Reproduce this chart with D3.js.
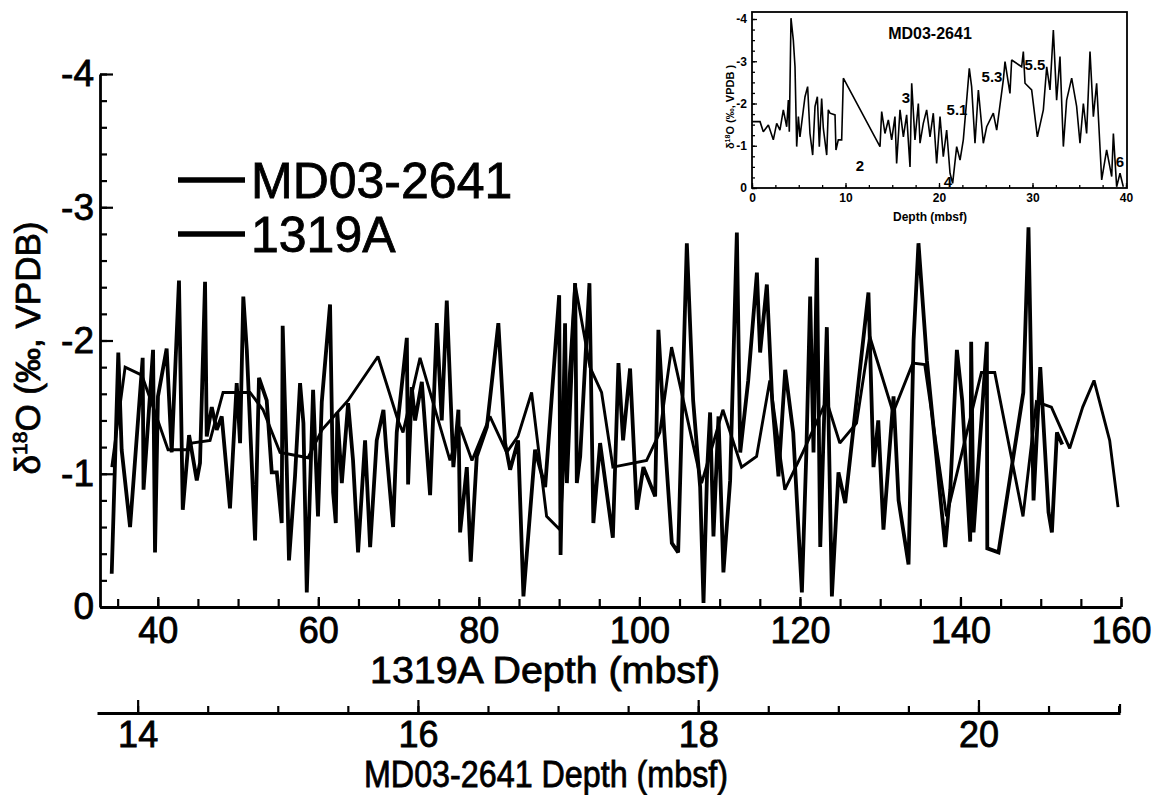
<!DOCTYPE html>
<html><head><meta charset="utf-8">
<script src="https://cdn.jsdelivr.net/npm/d3@7"></script>
<style>
body{margin:0;background:#fff}
svg text{font-family:"Liberation Sans",Arial,Helvetica,sans-serif;fill:#000}
svg text.heavy{stroke:#000;stroke-width:0.8px}
</style>
</head><body>
<svg id="chart" width="1155" height="795"></svg>
<script>
// ---------- DATA ----------
// MD03-2641 (high resolution record), depth in mbsf, d18O in permil VPDB
const mdDepth = [13.815,13.862,13.886,13.946,14.036,14.042,14.110,14.124,14.145,14.207,14.243,14.295,14.322,14.367,14.422,14.445,14.481,14.493,14.529,14.564,14.600,14.659,14.707,14.731,14.754,14.779,14.838,14.866,14.921,14.957,14.993,15.028,15.035,15.064,15.080,15.123,15.159,15.183,15.207,15.252,15.287,15.314,15.373,15.395,15.414,15.425,15.457,15.502,15.537,15.573,15.623,15.659,15.706,15.754,15.773,15.823,15.849,15.921,15.930,15.956,15.980,16.028,16.087,16.135,16.170,16.206,16.253,16.289,16.301,16.349,16.377,16.420,16.492,16.574,16.622,16.658,16.715,16.753,16.836,16.908,17.008,17.018,17.050,17.063,17.122,17.134,17.158,17.224,17.252,17.300,17.391,17.431,17.464,17.514,17.562,17.609,17.693,17.716,17.757,17.812,17.857,17.919,17.964,18.014,18.038,18.064,18.085,18.109,18.145,18.180,18.228,18.276,18.300,18.357,18.419,18.442,18.490,18.528,18.573,18.621,18.678,18.740,18.771,18.799,18.823,18.847,18.871,18.918,18.954,19.001,19.049,19.215,19.251,19.285,19.322,19.394,19.430,19.501,19.537,19.572,19.632,19.763,19.799,19.846,19.884,19.941,19.948,19.965,20.060,20.063,20.143,20.320,20.357,20.393,20.441,20.500,20.524,20.560,20.598];
const mdD18O = [-0.25,-1.91,-1.18,-0.60,-1.87,-0.88,-1.93,-0.41,-1.58,-1.94,-1.16,-2.45,-0.73,-1.29,-0.95,-1.08,-2.44,-1.28,-1.50,-1.33,-1.43,-0.74,-1.68,-1.23,-2.33,-1.93,-0.50,-1.72,-1.55,-1.01,-1.01,-0.63,-2.11,-1.05,-0.35,-0.98,-1.68,-1.38,-0.11,-1.63,-0.68,-1.54,-2.27,-0.86,-0.63,-1.46,-0.93,-1.53,-1.10,-0.41,-1.25,-0.45,-1.25,-1.48,-1.20,-0.60,-1.31,-2.02,-0.92,-1.65,-1.40,-1.69,-0.84,-2.13,-1.40,-2.30,-1.05,-1.48,-0.56,-1.05,-0.34,-1.13,-1.35,-2.13,-1.23,-1.03,-1.25,-0.08,-1.18,-0.90,-2.34,-0.39,-2.13,-0.93,-2.43,-0.93,-1.13,-2.43,-0.63,-1.23,-0.52,-1.83,-1.25,-1.79,-0.73,-1.05,-0.83,-2.08,-1.33,-0.48,-0.41,-2.73,-1.55,-0.90,-0.03,-1.03,-1.46,-0.53,-1.43,-0.26,-0.95,-2.81,-1.16,-1.70,-2.51,-1.91,-2.42,-1.55,-0.98,-1.78,-1.31,-0.11,-1.13,-2.33,-1.16,-2.62,-0.45,-2.10,-0.08,-1.01,-0.78,-2.36,-1.05,-1.40,-0.58,-1.58,-0.80,-0.32,-2.00,-2.73,-1.85,-0.45,-0.88,-1.93,-1.55,-0.49,-1.99,-0.56,-1.99,-0.44,-0.41,-1.61,-2.85,-0.80,-1.80,-0.71,-0.56,-1.31,-1.22];

// ODP 1319A, depth in mbsf
const odpDepth = [34.27,35.93,38.01,39.66,41.28,43.65,44.23,46.51,48.13,51.49,53.11,55.23,58.72,60.46,63.70,67.43,69.93,70.55,72.67,76.40,77.65,79.14,81.38,83.46,84.87,86.57,88.44,90.10,91.97,93.84,95.29,96.70,100.90,102.55,104.01,107.75,110.40,112.73,114.60,116.25,118.12,120.36,123.31,124.97,127.05,128.70,131.61,134.06,135.55,138.26,142.61,144.27,147.79,149.46,151.33,153.61,155.23,156.64,158.59,159.63];
const odpD18O = [-1.05,-1.80,-1.74,-1.46,-1.18,-1.18,-1.23,-1.25,-1.61,-1.61,-1.48,-1.16,-1.12,-1.33,-1.55,-1.88,-1.40,-1.31,-1.87,-1.10,-1.35,-1.10,-1.43,-1.16,-1.28,-1.61,-0.68,-0.58,-2.43,-1.80,-1.61,-1.05,-1.10,-1.31,-1.95,-0.93,-1.48,-1.05,-1.13,-1.70,-0.88,-1.16,-1.55,-1.23,-1.38,-2.03,-1.46,-1.83,-1.82,-0.68,-1.76,-1.76,-0.68,-1.54,-1.50,-1.19,-1.50,-1.70,-1.25,-0.75];

// Inset: full MD03-2641 record
const insetDepth = [0,0.86,1.21,1.75,2.28,2.64,2.99,3.35,3.71,3.89,3.99,4.17,4.42,4.60,4.78,4.96,5.13,5.49,5.67,5.95,6.20,6.49,6.74,6.99,7.20,7.45,7.63,7.99,8.16,8.34,8.88,8.98,9.23,9.59,9.77,13.69,13.87,14.22,14.58,14.94,15.29,15.47,15.83,16.19,16.54,16.90,17.08,17.43,17.79,17.97,18.32,18.68,19.04,19.39,19.75,20.11,20.46,20.82,21.18,21.46,21.89,22.25,22.60,22.96,23.24,23.49,23.85,24.21,24.74,25.10,25.81,26.17,26.88,27.06,27.59,27.77,28.84,29.02,29.20,29.91,30.52,31.16,31.52,31.87,32.23,32.58,32.94,33.30,33.65,34.19,34.72,35.08,35.44,35.79,36.15,36.51,36.86,37.40,37.93,38.47,38.65,39.00,39.36,39.71];
const insetD18O = [-1.57,-1.57,-1.33,-1.49,-1.14,-1.53,-1.37,-1.85,-1.45,-2.08,-1.33,-4.02,-3.50,-2.87,-0.98,-1.69,-1.21,-1.85,-2.16,-2.40,-1.29,-0.78,-1.93,-2.16,-0.98,-2.12,-1.41,-0.78,-1.85,-1.77,-1.73,-0.90,-1.14,-1.14,-2.60,-0.98,-1.81,-1.29,-1.61,-1.14,-1.69,-0.58,-1.85,-1.21,-1.73,-0.50,-2.48,-1.14,-2.00,-1.06,-1.53,-1.85,-1.21,-1.77,-0.58,-1.69,-0.74,-1.37,-0.35,-0.11,-0.98,-0.66,-1.14,-2.08,-2.83,-2.40,-1.06,-2.32,-1.06,-1.45,-1.77,-1.37,-2.56,-2.99,-2.24,-3.03,-2.87,-3.23,-2.48,-2.32,-1.21,-1.85,-2.87,-2.32,-3.74,-2.08,-3.11,-0.98,-2.08,-2.60,-1.93,-1.06,-2.00,-1.29,-3.23,-1.69,-2.48,-0.19,-0.90,-0.27,-1.29,-0.03,-0.35,-0.03];

// Inset stage annotations (anchored in data coordinates)
const stageLabels = ["2","3","4","5.1","5.3","5.5","6"];
const stageDepth  = [11.55,16.47,20.96,21.93,25.67,30.27,39.36];
const stageD18O   = [-0.54,-2.15,-0.14,-1.85,-2.63,-2.91,-0.62];

// Tick values / labels
const yMajorTicks = [0,-1,-2,-3,-4];
const yTickLabels = ["0","-1","-2","-3","-4"];
const yMinorTicks = d3.range(0,-4.01,-0.2);
const odpMajorTicks = [40,60,80,100,120,140,160];
const odpMinorTicks = d3.range(35,161,5);
const mdMajorTicks = [14,16,18,20];
const mdMinorTicks = d3.range(14,21.01,0.5);
const insetXMajor = [0,10,20,30,40];
const insetXMinor = d3.range(0,40.01,2.5);
const insetYMajor = [0,-1,-2,-3,-4];
const insetYLabels = ["0","-1","-2","-3","-4"];
const insetYMinor = d3.range(0,-4.01,-0.25);

const seriesNames = ["MD03-2641","1319A"];

// ---------- DRAW ----------
const svg = d3.select("#chart");

const y = d3.scaleLinear().domain([0,-4]).range([607,74]);
const xOdp = d3.scaleLinear().domain([32.8,160]).range([100,1121]);
const xMd = d3.scaleLinear().domain([13.71,21.01]).range([97,1120]);

function styleAxis(g, fs){
  g.attr("font-family",null).attr("font-size",null);
  g.selectAll("path.domain").attr("stroke","#000").attr("stroke-width",2.8);
  g.selectAll(".tick line").attr("stroke","#000").attr("stroke-width",2.2);
  g.selectAll(".tick text").style("font-size",fs+"px").attr("fill","#000").attr("class","heavy");
}

// Y axis
const gy = svg.append("g").attr("transform","translate(100,0)")
  .call(d3.axisLeft(y).tickValues(yMinorTicks).tickSizeInner(-7).tickSizeOuter(0).tickFormat(""));
styleAxis(gy,36);
const gyM = svg.append("g").attr("transform","translate(100,0)")
  .call(d3.axisLeft(y).tickValues(yMajorTicks).tickSizeInner(-13).tickSizeOuter(0).tickPadding(6)
    .tickFormat((d,i)=>yTickLabels[i]));
styleAxis(gyM,37);
gyM.select("path.domain").remove();

// 1319A depth axis
const gx = svg.append("g").attr("transform","translate(0,607)")
  .call(d3.axisBottom(xOdp).tickValues(odpMinorTicks).tickSizeInner(-8).tickSizeOuter(0).tickFormat(""));
styleAxis(gx,36);
const gxM = svg.append("g").attr("transform","translate(0,607)")
  .call(d3.axisBottom(xOdp).tickValues(odpMajorTicks).tickSizeInner(-10).tickSizeOuter(0).tickPadding(10));
styleAxis(gxM,36);
gxM.select("path.domain").remove();

// MD03-2641 depth axis
const gx2 = svg.append("g").attr("transform","translate(0,713)")
  .call(d3.axisBottom(xMd).tickValues(mdMinorTicks).tickSizeInner(-7).tickSizeOuter(0).tickFormat(""));
styleAxis(gx2,36);
const gx2M = svg.append("g").attr("transform","translate(0,713)")
  .call(d3.axisBottom(xMd).tickValues(mdMajorTicks).tickSizeInner(-13).tickSizeOuter(0).tickPadding(8));
styleAxis(gx2M,36);
gx2M.select("path.domain").remove();
svg.append("line").attr("x1",xMd(21.01)).attr("x2",xMd(21.01)).attr("y1",713).attr("y2",704)
  .attr("stroke","#000").attr("stroke-width",2.2);

// Axis titles
svg.append("text").attr("class","heavy").attr("x",545).attr("y",683).attr("text-anchor","middle")
  .attr("textLength",350).attr("lengthAdjust","spacingAndGlyphs").style("font-size","37px").text("1319A Depth (mbsf)");
svg.append("text").attr("class","heavy").attr("x",546).attr("y",787).attr("text-anchor","middle")
  .attr("textLength",364).attr("lengthAdjust","spacingAndGlyphs").style("font-size","37px").text("MD03-2641 Depth (mbsf)");

const yl = svg.append("text").attr("class","heavy").attr("transform","translate(40,348) rotate(-90)")
  .attr("text-anchor","middle").style("font-size","35px");
yl.append("tspan").text("δ");
yl.append("tspan").attr("dy",-13).style("font-size","21px").text("18");
yl.append("tspan").attr("dy",13).text("O (‰, VPDB)");

// Lines
const mdData = d3.range(Math.min(mdDepth.length, mdD18O.length)).map(i=>[mdDepth[i], mdD18O[i]]);
const odpData = d3.range(Math.min(odpDepth.length, odpD18O.length)).map(i=>[odpDepth[i], odpD18O[i]]);

svg.append("path").datum(odpData)
  .attr("fill","none").attr("stroke","#000").attr("stroke-width",2.9).attr("stroke-linejoin","miter").attr("stroke-miterlimit",2)
  .attr("d", d3.line().x(d=>xOdp(d[0])).y(d=>y(d[1])));
svg.append("path").datum(mdData)
  .attr("fill","none").attr("stroke","#000").attr("stroke-width",3.8).attr("stroke-linejoin","miter").attr("stroke-miterlimit",2)
  .attr("d", d3.line().x(d=>xMd(d[0])).y(d=>y(d[1])));

// Legend
const leg = svg.append("g");
seriesNames.forEach((n,i)=>{
  const cy = 180 + i*54;
  leg.append("line").attr("x1",178).attr("x2",245).attr("y1",cy).attr("y2",cy).attr("stroke","#000").attr("stroke-width",5.5);
  leg.append("text").attr("class","heavy").attr("x",251).attr("y",cy+18).style("font-size","50px").text(n);
});

// ---------- INSET ----------
const xIn = d3.scaleLinear().domain([0,40]).range([752,1126]);
const yIn = d3.scaleLinear().domain([0,-4]).range([188,19]);
const inset = svg.append("g");
inset.append("rect").attr("x",752).attr("y",12).attr("width",375).attr("height",176)
  .attr("fill","#fff").attr("stroke","#000").attr("stroke-width",1.8);

function styleIn(g){
  g.attr("font-family",null).attr("font-size",null);
  g.selectAll("path.domain").remove();
  g.selectAll(".tick line").attr("stroke","#000").attr("stroke-width",1.3);
  g.selectAll(".tick text").style("font-size","12px").style("font-weight","bold").attr("fill","#000");
}
const ix = inset.append("g").attr("transform","translate(0,188)")
  .call(d3.axisBottom(xIn).tickValues(insetXMinor).tickSizeInner(-3).tickSizeOuter(0).tickFormat(""));
styleIn(ix);
const ixM = inset.append("g").attr("transform","translate(0,188)")
  .call(d3.axisBottom(xIn).tickValues(insetXMajor).tickSizeInner(-5).tickSizeOuter(0).tickPadding(5));
styleIn(ixM);
const iy = inset.append("g").attr("transform","translate(752,0)")
  .call(d3.axisLeft(yIn).tickValues(insetYMinor).tickSizeInner(-3).tickSizeOuter(0).tickFormat(""));
styleIn(iy);
const iyM = inset.append("g").attr("transform","translate(752,0)")
  .call(d3.axisLeft(yIn).tickValues(insetYMajor).tickSizeInner(-5).tickSizeOuter(0).tickPadding(5)
    .tickFormat((d,i)=>insetYLabels[i]));
styleIn(iyM);

const inData = d3.range(Math.min(insetDepth.length, insetD18O.length)).map(i=>[insetDepth[i], insetD18O[i]]);
inset.append("path").datum(inData).attr("fill","none").attr("stroke","#000").attr("stroke-width",1.6)
  .attr("stroke-linejoin","miter").attr("stroke-miterlimit",2)
  .attr("d", d3.line().x(d=>xIn(d[0])).y(d=>yIn(d[1])));

inset.append("text").attr("x",930).attr("y",39).attr("text-anchor","middle")
  .style("font-size","16px").style("font-weight","bold").text("MD03-2641");
stageLabels.forEach((t,i)=>{
  inset.append("text").attr("x",xIn(stageDepth[i])).attr("y",yIn(stageD18O[i])).attr("dy","0.36em")
    .attr("text-anchor","middle").style("font-size","15px").style("font-weight","bold").text(t);
});
inset.append("text").attr("x",930).attr("y",221).attr("text-anchor","middle")
  .style("font-size","12px").style("font-weight","bold").text("Depth (mbsf)");
const iyl = inset.append("text").attr("transform","translate(734,107) rotate(-90)").attr("text-anchor","middle")
  .style("font-size","11px").style("font-weight","bold");
iyl.append("tspan").text("δ");
iyl.append("tspan").attr("dy",-4).style("font-size","7px").text("18");
iyl.append("tspan").attr("dy",4).text("O (‰, VPDB )");
</script>
</body></html>
